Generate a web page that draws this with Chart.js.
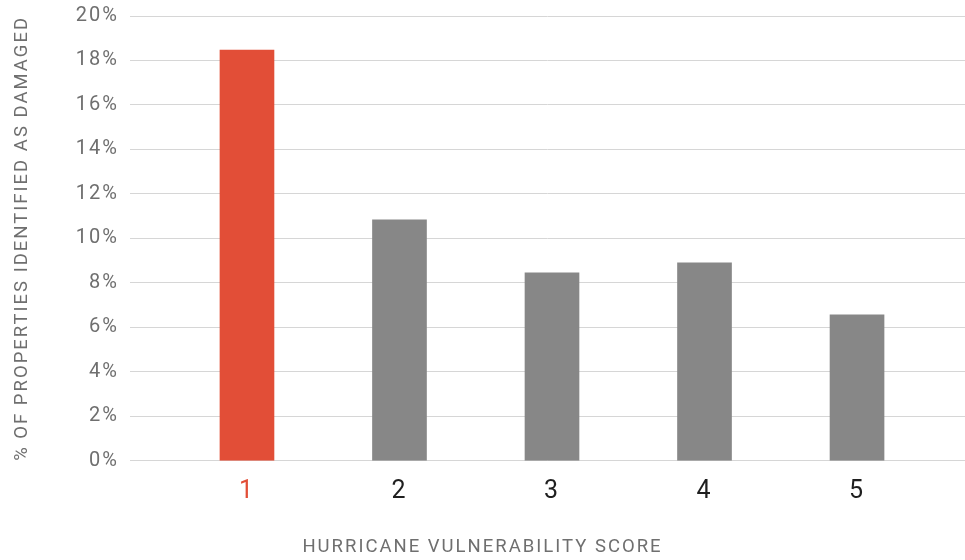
<!DOCTYPE html>
<html>
<head>
<meta charset="utf-8">
<script src="https://cdn.jsdelivr.net/npm/chart.js@4"></script>
<style>
  html, body { margin: 0; padding: 0; background: #ffffff; }
  #wrap { width: 965px; height: 560px; position: relative; }
</style>
</head>
<body>
<div id="wrap"><canvas id="chart"></canvas></div>
<script>
// Hurricane vulnerability score vs. share of properties identified as damaged
const scores = [1, 2, 3, 4, 5];
const damagedPct = [18.47, 10.83, 8.45, 8.9, 6.56];
const yTicks = [0, 2, 4, 6, 8, 10, 12, 14, 16, 18, 20];

const RED = '#e24e37';
const GREY = '#878787';

const barColors = scores.map(s => (s === 1 ? RED : GREY));
const labelColors = scores.map(s => (s === 1 ? RED : '#1f1f1f'));

const FONT = 'Roboto, "Liberation Sans", sans-serif';

// Slightly open lettering for every label on the canvas
const letterSpacingPlugin = {
  id: 'letterSpacing',
  beforeLayout(chart) { chart.ctx.letterSpacing = '2px'; },
  beforeDraw(chart) { chart.ctx.letterSpacing = '2px'; }
};

new Chart(document.getElementById('chart'), {
  type: 'bar',
  data: {
    datasets: [{
      data: scores.map((s, i) => ({ x: s, y: damagedPct[i] })),
      backgroundColor: barColors,
      borderWidth: 0,
      barThickness: 54
    }]
  },
  plugins: [letterSpacingPlugin],
  options: {
    responsive: true,
    maintainAspectRatio: false,
    animation: false,
    layout: { padding: { top: 16, right: 0, bottom: 0, left: 0 } },
    plugins: {
      legend: { display: false },
      tooltip: { enabled: false },
      title: {
        display: true,
        position: 'bottom',
        text: 'HURRICANE VULNERABILITY SCORE',
        color: '#6f6f6f',
        font: { family: FONT, size: 18.5, weight: 'normal', lineHeight: 1.2 },
        padding: { top: 0, bottom: 2 }
      }
    },
    scales: {
      x: {
        type: 'linear',
        offset: false,
        min: 0.233,
        max: 5.708,
        grid: { display: false },
        border: { display: false },
        afterBuildTicks: (scale) => { scale.ticks = scores.map(v => ({ value: v })); },
        afterFit: (scale) => {
          scale.height = 75;
          scale.paddingLeft = 0;
          scale.paddingRight = 0;
        },
        ticks: {
          autoSkip: false,
          padding: 8,
          color: (ctx) => labelColors[scores.indexOf(ctx.tick.value)] || '#1f1f1f',
          font: { family: FONT, size: 25 },
          callback: (v) => String(v)
        }
      },
      y: {
        min: 0,
        max: 20,
        afterBuildTicks: (scale) => { scale.ticks = yTicks.map(v => ({ value: v })); },
        afterFit: (scale) => {
          scale.width = 130;
          scale.paddingTop = 0;
          scale.paddingBottom = 0;
        },
        grid: { color: '#d6d6d6', lineWidth: 1, drawTicks: false },
        border: { display: false },
        ticks: {
          padding: 11,
          color: '#6f6f6f',
          font: { family: FONT, size: 20 },
          callback: (v) => v + '%'
        },
        title: {
          display: true,
          text: '% OF PROPERTIES IDENTIFIED AS DAMAGED',
          color: '#6f6f6f',
          font: { family: FONT, size: 18.5, weight: 'normal', lineHeight: 1.2 },
          padding: { top: 11, bottom: 0 }
        }
      }
    }
  }
});
</script>
</body>
</html>
